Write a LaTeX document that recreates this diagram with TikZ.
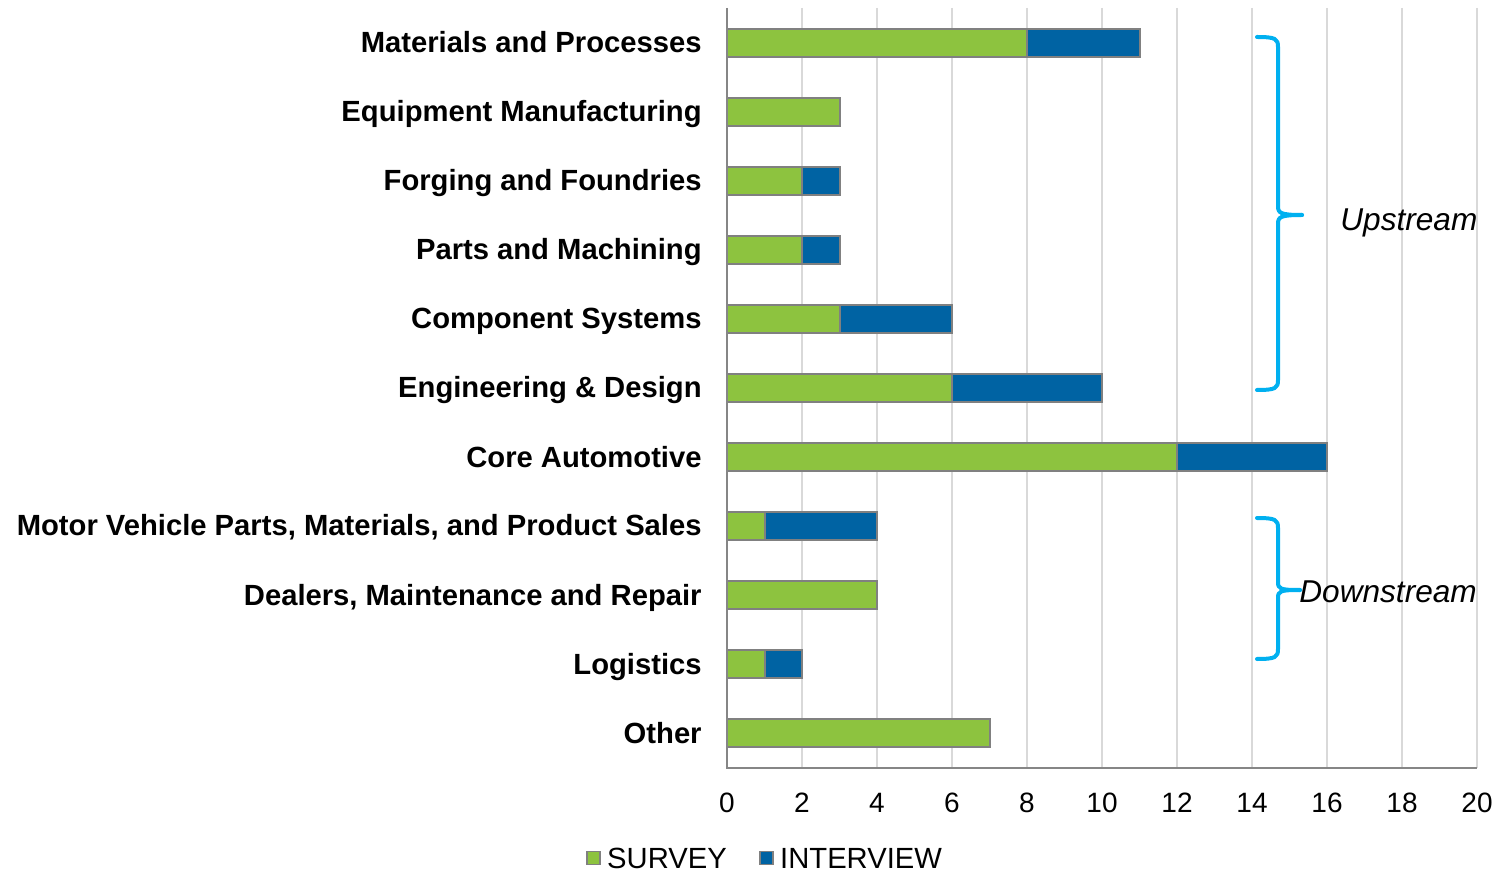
\documentclass[tikz,border=0pt]{standalone}
\usepackage{fontspec}
\setmainfont{Liberation Sans}
\usetikzlibrary{positioning, calc}
\definecolor{SurveyGreen}{RGB}{141,195,63}
\definecolor{InterviewBlue}{RGB}{0,99,163}
\definecolor{BraceCyan}{RGB}{0,176,240}
\definecolor{GridGray}{RGB}{217,217,217}
\definecolor{AxisGray}{RGB}{134,134,134}

\tikzset{
  catlabel/.style={anchor=base east, inner sep=0pt, font=\fontsize{14.6}{16}\selectfont\bfseries},
  ticklabel/.style={inner sep=0pt, font=\fontsize{14}{16}\selectfont},
  groupname/.style={anchor=base west, inner sep=0pt, font=\fontsize{15.8}{18}\selectfont\itshape},
  legbox/.style={draw=gray, line width=0.8pt, minimum size=6.5pt, inner sep=0pt},
  legtext/.style={anchor=west, inner sep=0pt, font=\fontsize{14.6}{16}\selectfont},
  barpart/.style={draw=gray, line width=1pt},
  bracepath/.style={BraceCyan, line width=2pt, line cap=round, line join=round}
}

\begin{document}
\begin{tikzpicture}[x=0.5pt, y=-0.5pt]
\useasboundingbox (0,0) rectangle (1494,871);
\foreach \k in {1,...,10}
  \draw[GridGray, line width=0.8pt] ({727+75*\k},8) -- ({727+75*\k},768);
\foreach \k in {0,2,...,20}
  \node[ticklabel] (t\k) at ({727+37.5*\k},803) {\k};
\foreach \lab/\sv/\iv [count=\i from 0] in {
    Materials and Processes/8/3,
    Equipment Manufacturing/3/0,
    Forging and Foundries/2/1,
    Parts and Machining/2/1,
    Component Systems/3/3,
    Engineering \& Design/6/4,
    Core Automotive/12/4,
    {Motor Vehicle Parts, Materials, and Product Sales}/1/3,
    {Dealers, Maintenance and Repair}/4/0,
    Logistics/1/1,
    Other/7/0} {
  \node[catlabel] (c\i) at (702,{53+69*\i}) {\lab};
  \draw[barpart, fill=SurveyGreen] (727,{29+69*\i}) rectangle ({727+37.5*\sv},{57+69*\i});
  \ifnum\iv>0
    \draw[barpart, fill=InterviewBlue] ({727+37.5*\sv},{29+69*\i}) rectangle ({727+37.5*(\sv+\iv)},{57+69*\i});
  \fi
}
\draw[AxisGray, line width=1pt] (727,8) -- (727,768) -- (1477,768);
\draw[bracepath] (1257,37) .. controls (1276,37) and (1278,39) .. (1278,47) -- (1278,206)
  .. controls (1278,213) and (1280,215) .. (1302,215);
\draw[bracepath] (1257,390) .. controls (1276,390) and (1278,388) .. (1278,380) -- (1278,224)
  .. controls (1278,217) and (1280,215) .. (1302,215);
\node[groupname] (up) at (1340,231) {Upstream};
\draw[bracepath] (1257,518) .. controls (1276,518) and (1278,520) .. (1278,528) -- (1278,582)
  .. controls (1278,589) and (1280,590) .. (1300,590);
\draw[bracepath] (1257,659) .. controls (1276,659) and (1278,657) .. (1278,649) -- (1278,598)
  .. controls (1278,591) and (1280,590) .. (1300,590);
\node[groupname] (down) at (1299,602) {Downstream};
\node[legbox, fill=SurveyGreen] (sv) at (593.5,858) {};
\node[legtext, right=3pt of sv] (svt) {SURVEY};
\node[legbox, fill=InterviewBlue] (iv) at (766.5,858) {};
\node[legtext, right=3pt of iv] (ivt) {INTERVIEW};
\end{tikzpicture}
\end{document}
